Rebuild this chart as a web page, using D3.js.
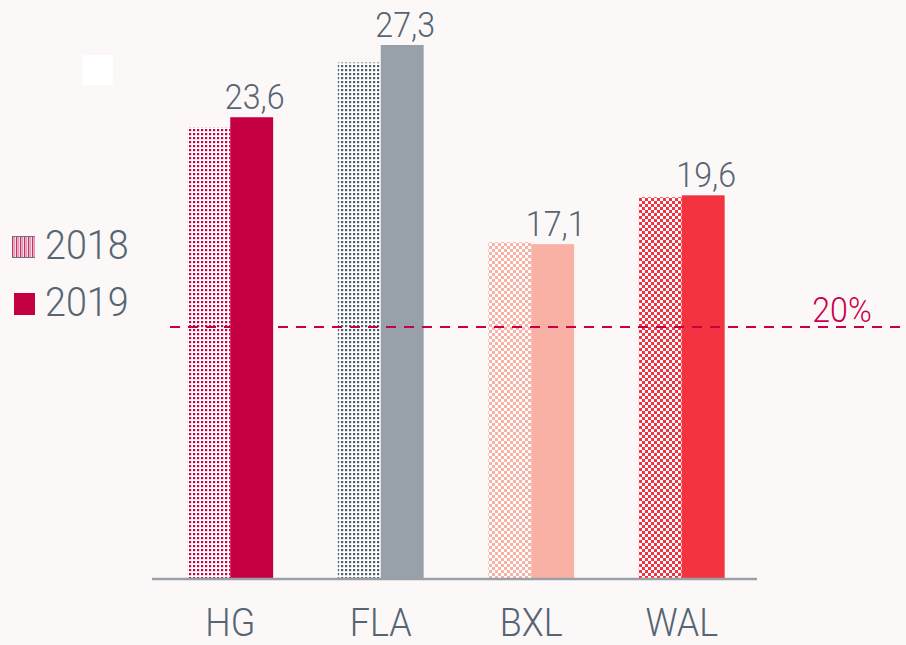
<!DOCTYPE html>
<html><head><meta charset="utf-8">
<script src="https://cdn.jsdelivr.net/npm/d3@7"></script>
<style>
html,body{margin:0;padding:0;background:#fcf8f8;overflow:hidden}
svg{display:block}
text{font-family:Roboto,"Noto Sans",sans-serif;font-weight:300}
</style></head><body>
<svg id="chart" width="906" height="645"></svg>
<script>
const categories = ["HG","FLA","BXL","WAL"];
const years = ["2018","2019"];
const values2018 = [23.1, 26.4, 17.2, 19.5];
const values2019 = [23.6, 27.3, 17.1, 19.6];
const labels2019 = ["23,6","27,3","17,1","19,6"];
const colors2019 = ["#c40042","#98a0aa","#f9b1a5","#f3333f"];
const colors2018 = ["#c40042","#4f5d6b","#f9b1a5","#f3333f"];
const patternKinds = ["dots","dots","checker","checker"];
const refLevel = 12.85;
const refLabel = "20%";

const SX = 0.92;
const svg = d3.select("#chart");
const W = 906, H = 645;
svg.append("rect").attr("width",W).attr("height",H).attr("fill","#fcf8f8");
svg.append("rect").attr("x",83).attr("y",55).attr("width",30).attr("height",30).attr("fill","#ffffff");

function ctext(parent, x0, y0, str, size, anchor, fill, weight){
  return parent.append("text").attr("transform",`translate(${x0},${y0}) scale(${SX},1)`)
    .attr("text-anchor",anchor).attr("font-size",size).attr("fill",fill)
    .attr("font-weight",weight||300).text(str);
}

const defs = svg.append("defs");
categories.forEach((c,i)=>{
  const p = defs.append("pattern").attr("id","pat"+i).attr("patternUnits","userSpaceOnUse");
  if(patternKinds[i]==="dots"){
    p.attr("width",4).attr("height",4);
    p.append("rect").attr("width",4).attr("height",4).attr("fill","#ffffff");
    p.append("rect").attr("x",1).attr("y",1).attr("width",2.2).attr("height",2.2).attr("fill",colors2018[i]);
  } else {
    p.attr("width",6).attr("height",6);
    p.append("rect").attr("width",6).attr("height",6).attr("fill",colors2018[i]);
    p.append("rect").attr("x",0).attr("y",0).attr("width",3).attr("height",3).attr("fill","#ffffff");
    p.append("rect").attr("x",3).attr("y",3).attr("width",3).attr("height",3).attr("fill","#ffffff");
  }
});
const lp = defs.append("pattern").attr("id","legpat").attr("patternUnits","userSpaceOnUse").attr("width",4).attr("height",4);
lp.append("rect").attr("width",4).attr("height",4).attr("fill","#f7dbe5");
lp.append("rect").attr("x",0).attr("width",1.3).attr("height",4).attr("fill","#c8306a");
lp.append("rect").attr("x",2).attr("width",1).attr("height",4).attr("fill","#e89ab5");

const x = d3.scaleBand().domain(categories).range([155,757]).paddingInner(0.43).paddingOuter(0.215);
const xs = d3.scaleBand().domain(years).range([0,x.bandwidth()]);
const y = d3.scaleLinear().domain([0,27.3]).range([578,45]);

const g = svg.append("g");
categories.forEach((c,i)=>{
  g.append("rect").attr("x",x(c)+xs("2018")).attr("width",xs.bandwidth())
    .attr("y",y(values2018[i])).attr("height",y(0)-y(values2018[i])).attr("fill","url(#pat"+i+")");
  g.append("rect").attr("x",x(c)+xs("2019")).attr("width",xs.bandwidth())
    .attr("y",y(values2019[i])).attr("height",y(0)-y(values2019[i])).attr("fill",colors2019[i]);
  ctext(g, x(c)+xs("2019")+xs.bandwidth()/2+3, y(values2019[i])-8, labels2019[i], 35, "middle", "#566573");
});

// axis
const axis = svg.append("g").attr("transform","translate(0,579)")
  .call(d3.axisBottom(x).tickSize(0).tickPadding(0));
axis.select(".domain").attr("stroke","#9aa0a8").attr("stroke-width",2.5).attr("d","M152,0H757");
axis.selectAll(".tick text").attr("font-size",39).attr("fill","#566573").attr("font-family","Roboto")
  .attr("font-weight",300).attr("y",0).attr("dy",0)
  .attr("transform",`translate(0,57) scale(${SX},1)`);

// reference line
svg.append("line").attr("x1",170).attr("x2",906).attr("y1",y(refLevel)).attr("y2",y(refLevel))
  .attr("stroke","#c8004a").attr("stroke-width",2).attr("stroke-dasharray","10,8");
ctext(svg, 842, y(refLevel)-5, refLabel, 35, "middle", "#c8004a", 400);

// legend
const leg = svg.append("g");
leg.append("rect").attr("x",12).attr("y",236).attr("width",23).attr("height",22).attr("fill","url(#legpat)");
leg.append("line").attr("x1",12).attr("x2",35).attr("y1",236.5).attr("y2",236.5).attr("stroke","#6a7480").attr("stroke-width",1);
leg.append("line").attr("x1",12).attr("x2",35).attr("y1",257.5).attr("y2",257.5).attr("stroke","#6a7480").attr("stroke-width",1);
leg.append("rect").attr("x",14).attr("y",293).attr("width",21).attr("height",22).attr("fill","#c40042");
ctext(leg, 45, 259, years[0], 41, "start", "#566573");
ctext(leg, 45, 316, years[1], 41, "start", "#566573");
</script></body></html>
